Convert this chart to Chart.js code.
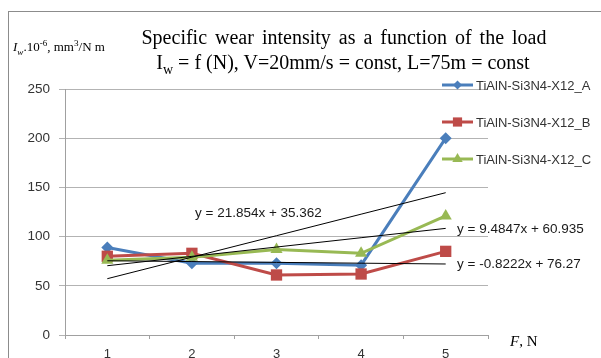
<!DOCTYPE html>
<html>
<head>
<meta charset="utf-8">
<script src="https://cdn.jsdelivr.net/npm/chart.js@4/dist/chart.umd.min.js"></script>
<style>
  html, body { margin: 0; padding: 0; background: #fff; width: 601px; height: 358px; overflow: hidden; }
  #frame { position: absolute; left: 8px; top: 11px; width: 700px; height: 400px; border: 1px solid #8c8c8c; }
  #c { position: absolute; left: 0; top: 0; }
  .t { position: absolute; font-family: "Liberation Serif", "DejaVu Serif", serif; color: #000; white-space: nowrap; }
  #title1 { left: 0; width: 688px; text-align: center; top: 25px; font-size: 20px; line-height: 24px; word-spacing: 3px; }
  #title2 { left: 0; width: 686px; text-align: center; top: 50px; font-size: 20px; line-height: 24px; }
  #ylab { left: 13px; top: 39px; font-size: 13px; line-height: 16px; }
  #xlab { left: 510px; top: 332px; font-size: 15px; line-height: 18px; }
  sub, sup { font-size: 70%; line-height: 0; }
</style>
</head>
<body>
<div id="frame"></div>
<canvas id="c" width="601" height="375"></canvas>
<div class="t" id="title1">Specific wear intensity as a function of the load</div>
<div class="t" id="title2">I<sub>w</sub> = f (N), V=20mm/s = const, L=75m = const</div>
<div class="t" id="ylab"><i>I<sub>w</sub></i>.10<sup>-6</sup>, mm<sup>3</sup>/N m</div>
<div class="t" id="xlab"><i>F</i>, N</div>
<script>
// ---- data ----
const categories = ['1', '2', '3', '4', '5'];
const seriesNames = ['TiAlN-Si3N4-X12_A', 'TiAlN-Si3N4-X12_B', 'TiAlN-Si3N4-X12_C'];
const valuesA = [89, 73, 73, 71, 200];
const valuesB = [80, 83, 61, 62, 85];
const valuesC = [76, 79, 87, 83, 121];
// linear trendline coefficients as printed on the chart (slope, intercept)
const trendSlopes = [21.854, -0.8222, 9.4847];
const trendIntercepts = [35.362, 76.27, 60.935];
const trendLabels = ['y = 21.854x + 35.362', 'y = -0.8222x + 76.27', 'y = 9.4847x + 60.935'];
const yTicks = [0, 50, 100, 150, 200, 250];

const colors = ['#4A7EBB', '#BE4B48', '#98B954'];
const markers = ['rectRot', 'rect', 'triangle'];
const markerRadius = [6, 8, 7];
const seriesValues = [valuesA, valuesB, valuesC];

const datasets = [];
seriesValues.forEach((vals, i) => {
  datasets.push({
    label: seriesNames[i],
    data: vals,
    borderColor: colors[i],
    backgroundColor: colors[i],
    borderWidth: 3,
    pointStyle: markers[i],
    pointRadius: markerRadius[i],
    pointHoverRadius: markerRadius[i],
    pointBorderWidth: 0,
    tension: 0,
    order: 3 - i
  });
});
trendSlopes.forEach((m, i) => {
  datasets.push({
    label: 'trend' + i,
    data: categories.map(c => m * Number(c) + trendIntercepts[i]),
    borderColor: '#000',
    borderWidth: 1,
    pointRadius: 0,
    tension: 0,
    order: 0
  });
});

const labelPos = [[195, 213], [457, 264], [457, 229]];
const legendY = [85, 122, 159];

const overlay = {
  id: 'overlay',
  afterDraw(chart) {
    const ctx = chart.ctx;
    ctx.save();
    ctx.font = '13.5px "Liberation Sans", Arial, sans-serif';
    ctx.fillStyle = '#1a1a1a';
    ctx.textBaseline = 'middle';
    ctx.textAlign = 'left';
    trendLabels.forEach((t, i) => ctx.fillText(t, labelPos[i][0], labelPos[i][1]));
    // legend
    ctx.font = '13px "Liberation Sans", Arial, sans-serif';
    seriesNames.forEach((n, i) => {
      const y = legendY[i];
      ctx.strokeStyle = colors[i];
      ctx.lineWidth = 3;
      ctx.beginPath(); ctx.moveTo(442, y); ctx.lineTo(473, y); ctx.stroke();
      ctx.fillStyle = colors[i];
      Chart.helpers.drawPoint(ctx, { pointStyle: markers[i], radius: [4.5, 6.5, 6][i], rotation: 0, borderWidth: 0 }, 457.5, y);
      ctx.fillStyle = '#333';
      ctx.fillText(n, 476, y + 1);
    });
    ctx.restore();
  }
};

new Chart(document.getElementById('c'), {
  type: 'line',
  data: { labels: categories, datasets },
  options: {
    responsive: false,
    devicePixelRatio: 1,
    animation: false,
    layout: { padding: { left: 0, right: 113, top: 89, bottom: 0 } },
    plugins: { legend: { display: false }, title: { display: false }, tooltip: { enabled: false } },
    scales: {
      x: {
        type: 'category',
        offset: true,
        afterFit(s) { s.height = 40; },
        grid: { offset: true, drawOnChartArea: false, drawTicks: true, tickLength: 4, color: '#a0a0a0' },
        border: { display: true, color: '#a0a0a0' },
        ticks: { color: '#333', font: { family: '"Liberation Sans", Arial, sans-serif', size: 13 }, padding: 8 }
      },
      y: {
        min: 0, max: 250,
        afterFit(s) { s.width = 65; },
        afterBuildTicks(s) { s.ticks = yTicks.map(v => ({ value: v })); },
        grid: { color: '#b3b3b3', tickLength: 6, drawTicks: true },
        border: { display: true, color: '#a0a0a0' },
        ticks: { color: '#333', font: { family: '"Liberation Sans", Arial, sans-serif', size: 13.5 }, padding: 9 }
      }
    }
  },
  plugins: [overlay]
});
</script>
</body>
</html>
